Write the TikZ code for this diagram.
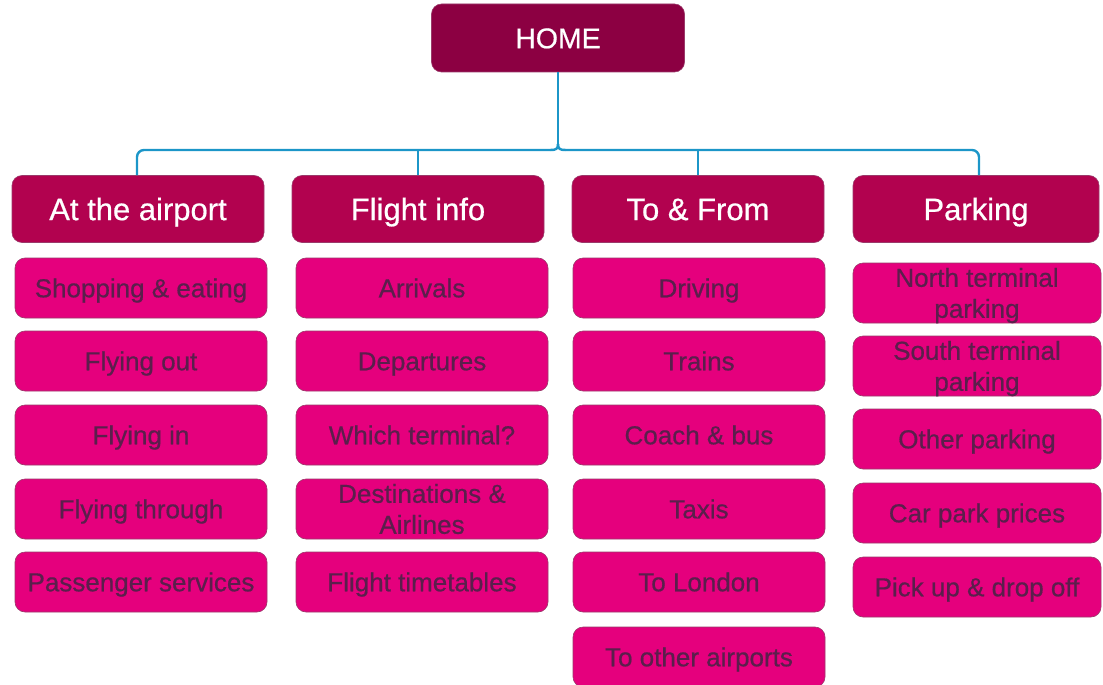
\documentclass[tikz,border=0pt]{standalone}
\usepackage{fontspec}
\setmainfont{Liberation Sans}
\newfontfamily\medfont[FakeBold=0.6]{Liberation Sans}
\usetikzlibrary{calc}
\definecolor{homefill}{HTML}{8C0042}
\definecolor{headfill}{HTML}{B2024F}
\definecolor{subfill}{HTML}{E5007D}
\definecolor{subtext}{HTML}{5A1F4C}
\definecolor{edgecol}{HTML}{9A3A6A}
\definecolor{conncol}{HTML}{1C96C8}
\tikzset{
  homebox/.style={fill=homefill, draw=edgecol, line width=0.6pt, rounded corners=10pt,
    minimum width=253pt, minimum height=68pt, inner sep=0pt, text=white,
    text height=20.4pt, text depth=0pt,
    font=\medfont\fontsize{28.5}{32}\selectfont},
  headbox/.style={fill=headfill, draw=edgecol, line width=0.6pt, rounded corners=10pt,
    minimum width=252pt, minimum height=67pt, inner sep=0pt, text=white,
    text height=22.2pt, text depth=0pt,
    font=\medfont\fontsize{31}{36}\selectfont},
  subbox/.style={fill=subfill, draw=edgecol, line width=0.6pt, rounded corners=10pt,
    minimum width=252pt, minimum height=60pt, inner sep=0pt, text=subtext,
    text height=18.6pt, text depth=0pt,
    align=center, font=\medfont\fontsize{26}{31}\selectfont},
  twoline/.style={text height=49.6pt, text depth=0pt},
  conn/.style={draw=conncol, line width=2.4pt},
}
\begin{document}
\begin{tikzpicture}[x=1pt,y=-1pt]
\useasboundingbox (0,0) rectangle (1103,685);
\node[homebox] (home) at (558,38) {HOME};
\node[headbox] (h1) at (138,209) {At the airport};
\node[headbox] (h2) at (418,209) {Flight info};
\node[headbox] (h3) at (698,209) {To \& From};
\node[headbox, minimum width=246pt] (h4) at (976,209) {Parking};
\coordinate (bar) at (558,150);
% column 1
\node[subbox] (a1) at (141,288) {Shopping \& eating};
\node[subbox] (a2) at (141,361) {Flying out};
\node[subbox] (a3) at (141,435) {Flying in};
\node[subbox] (a4) at (141,509) {Flying through};
\node[subbox] (a5) at (141,582) {Passenger services};
% column 2
\node[subbox] (b1) at (422,288) {Arrivals};
\node[subbox] (b2) at (422,361) {Departures};
\node[subbox] (b3) at (422,435) {Which terminal?};
\node[subbox, twoline] (b4) at (422,509) {Destinations \&\\Airlines};
\node[subbox] (b5) at (422,582) {Flight timetables};
% column 3
\node[subbox] (c1) at (699,288) {Driving};
\node[subbox] (c2) at (699,361) {Trains};
\node[subbox] (c3) at (699,435) {Coach \& bus};
\node[subbox] (c4) at (699,509) {Taxis};
\node[subbox] (c5) at (699,582) {To London};
\node[subbox] (c6) at (699,657) {To other airports};
% column 4
\node[subbox, twoline, minimum width=248pt] (d1) at (977,293) {North terminal\\parking};
\node[subbox, twoline, minimum width=248pt] (d2) at (977,366) {South terminal\\parking};
\node[subbox, minimum width=248pt] (d3) at (977,439) {Other parking};
\node[subbox, minimum width=248pt] (d4) at (977,513) {Car park prices};
\node[subbox, minimum width=248pt] (d5) at (977,587) {Pick up \& drop off};
% connectors
\draw[conn, rounded corners=7pt] (h1.north -| 137,0) |- ($(bar)+(-7,0)$);
\draw[conn, rounded corners=7pt] (h4.north -| 979,0) |- ($(bar)+(7,0)$);
\draw[conn] ($(bar)+(-7.5,0)$) .. controls ($(bar)+(-2,0)$) and ($(bar)+(0,-1)$) .. ($(bar)+(0,-6)$);
\draw[conn] ($(bar)+(7.5,0)$) .. controls ($(bar)+(2,0)$) and ($(bar)+(0,-1)$) .. ($(bar)+(0,-6)$);
\draw[conn] (home.south) -- ($(bar)+(0,-5)$);
\draw[conn] (h2.north) -- (h2.north |- bar);
\draw[conn] (h3.north) -- (h3.north |- bar);
\end{tikzpicture}
\end{document}
